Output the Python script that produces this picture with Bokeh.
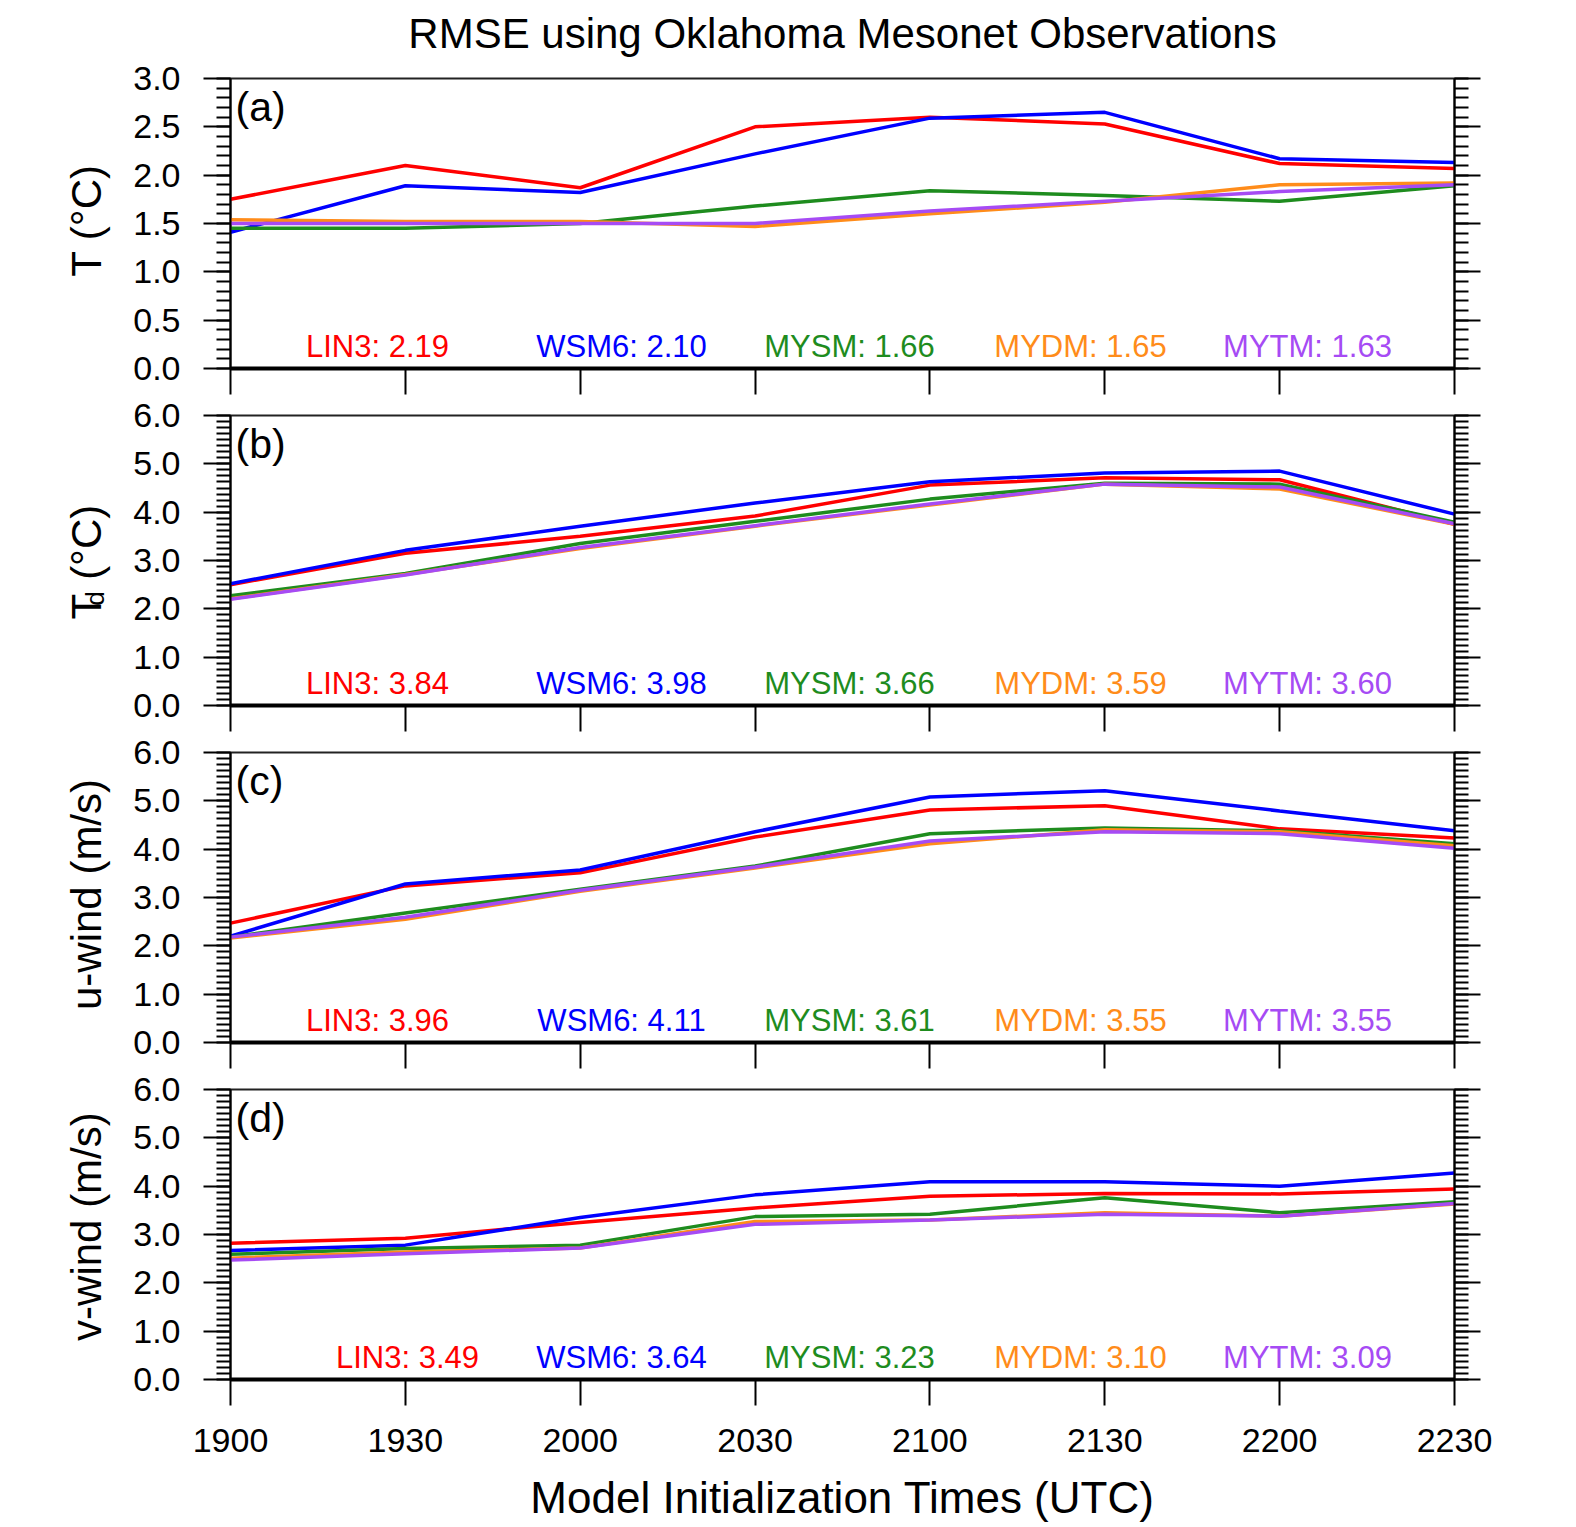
import numpy as np
from bokeh.plotting import figure
from bokeh.layouts import column, row
from bokeh.models import Range1d, FixedTicker, LinearAxis, Label, PrintfTickFormatter
from bokeh.embed import file_html
from bokeh.resources import INLINE

# ---------------- data ----------------
times = ["1900", "1930", "2000", "2030", "2100", "2130", "2200", "2230"]
schemes = ["LIN3", "WSM6", "MYSM", "MYDM", "MYTM"]

T_LIN3 = [1.75, 2.10, 1.87, 2.50, 2.60, 2.53, 2.12, 2.07]
T_WSM6 = [1.41, 1.89, 1.82, 2.22, 2.59, 2.65, 2.17, 2.13]
T_MYSM = [1.45, 1.45, 1.50, 1.68, 1.84, 1.79, 1.73, 1.89]
T_MYDM = [1.54, 1.52, 1.52, 1.47, 1.60, 1.72, 1.90, 1.92]
T_MYTM = [1.50, 1.50, 1.50, 1.50, 1.63, 1.73, 1.83, 1.90]
T_RMSE = [2.19, 2.10, 1.66, 1.65, 1.63]

TD_LIN3 = [2.50, 3.15, 3.50, 3.92, 4.56, 4.71, 4.67, 3.75]
TD_WSM6 = [2.52, 3.21, 3.71, 4.19, 4.63, 4.81, 4.85, 3.96]
TD_MYSM = [2.27, 2.73, 3.35, 3.81, 4.27, 4.60, 4.58, 3.79]
TD_MYDM = [2.21, 2.71, 3.25, 3.71, 4.15, 4.58, 4.48, 3.75]
TD_MYTM = [2.20, 2.70, 3.27, 3.72, 4.17, 4.58, 4.52, 3.76]
TD_RMSE = [3.84, 3.98, 3.66, 3.59, 3.60]

U_LIN3 = [2.47, 3.24, 3.51, 4.25, 4.81, 4.90, 4.42, 4.23]
U_WSM6 = [2.20, 3.28, 3.57, 4.36, 5.08, 5.21, 4.79, 4.38]
U_MYSM = [2.18, 2.68, 3.17, 3.65, 4.32, 4.44, 4.38, 4.11]
U_MYDM = [2.16, 2.55, 3.13, 3.61, 4.11, 4.40, 4.36, 4.07]
U_MYTM = [2.18, 2.59, 3.15, 3.63, 4.17, 4.36, 4.32, 4.02]
U_RMSE = [3.96, 4.11, 3.61, 3.55, 3.55]

V_LIN3 = [2.82, 2.92, 3.25, 3.55, 3.79, 3.85, 3.84, 3.94]
V_WSM6 = [2.67, 2.78, 3.35, 3.82, 4.09, 4.09, 4.00, 4.27]
V_MYSM = [2.59, 2.71, 2.78, 3.37, 3.42, 3.76, 3.45, 3.68]
V_MYDM = [2.51, 2.64, 2.72, 3.27, 3.30, 3.45, 3.38, 3.63]
V_MYTM = [2.47, 2.60, 2.72, 3.21, 3.30, 3.42, 3.38, 3.64]
V_RMSE = [3.49, 3.64, 3.23, 3.10, 3.09]

# ---------------- style / layout ----------------
COLORS = ["#FF0000", "#0000FF", "#1E8C1E", "#FF8C1A", "#A64BF4"]
FONT = "Liberation Sans"
W, H = 1576, 1527
LBL_W = 122                  # strip holding the rotated y-axis titles
LEFT, RIGHT = 108, 122       # borders of the panel figures
PW = W - LBL_W
FW, FH = PW - LEFT - RIGHT, 290
TOP = 20
TITLE_H = 58
B_MID, B_LAST = 27, 92
BOT_H = H - (TITLE_H + 3 * (TOP + FH + B_MID) + (TOP + FH + B_LAST))
PX_PER_X = FW / 7.0


def px_x(px):
    return (px - LBL_W - LEFT) / PX_PER_X


def bare(width, height):
    f = figure(width=width, height=height, x_range=Range1d(0, width),
               y_range=Range1d(0, height), output_backend="svg",
               toolbar_location=None, min_border=0,
               x_axis_location=None, y_axis_location=None)
    f.grid.visible = False
    f.outline_line_color = None
    f.background_fill_color = "white"
    f.border_fill_color = "white"
    return f


def hidden_labels(ax):
    ax.major_label_text_font_size = "1px"
    ax.major_label_text_alpha = 0
    ax.major_label_text_color = None
    ax.major_label_standoff = 0


def ylabel_fig(height, parts):
    f = bare(LBL_W, height)
    yc = height - (TOP + FH / 2.0)
    for txt, size, along, bx, align in parts:
        f.add_layout(Label(x=bx, y=yc + along, text=txt, angle=np.pi / 2,
                           text_font=FONT, text_font_size=size,
                           text_color="black", text_align=align,
                           text_baseline="middle"))
    return f


def make_panel(series, rmse, ymax, step, minor_step, letter, bottom,
               stat_px, last=False):
    p = figure(width=PW, height=TOP + FH + bottom,
               x_range=Range1d(0, 7), y_range=Range1d(0, ymax),
               output_backend="svg", toolbar_location=None,
               min_border_left=LEFT, min_border_right=RIGHT,
               min_border_top=TOP, min_border_bottom=bottom,
               x_axis_location=None, y_axis_location=None)
    p.grid.visible = False
    p.outline_line_color = "#222222"
    p.outline_line_width = 2
    p.background_fill_color = "white"
    p.border_fill_color = "white"

    xs = list(range(len(times)))
    for vals, c in zip(series, COLORS):
        p.line(xs, vals, line_color=c, line_width=3.5)

    n = int(round(ymax / step))
    majors = [round(i * step, 3) for i in range(n + 1)]
    minors = [round(i * minor_step, 4) for i in range(int(round(ymax / minor_step)) + 1)]

    # bottom axis
    xax = LinearAxis(ticker=FixedTicker(ticks=xs, minor_ticks=[]),
                     major_label_overrides={i: t for i, t in enumerate(times)},
                     major_tick_out=26, major_tick_in=0,
                     minor_tick_out=0, minor_tick_in=0,
                     major_tick_line_width=2, axis_line_width=4,
                     axis_line_color="black", major_tick_line_color="black",
                     major_label_text_font=FONT,
                     major_label_text_color="black")
    if last:
        xax.major_label_text_font_size = "34px"
        xax.major_label_standoff = 23
    else:
        hidden_labels(xax)
    p.add_layout(xax, "below")

    # left axis
    yax = LinearAxis(ticker=FixedTicker(ticks=majors, minor_ticks=minors),
                     formatter=PrintfTickFormatter(format="%.1f"),
                     major_tick_out=27, major_tick_in=0,
                     minor_tick_out=14, minor_tick_in=0,
                     major_tick_line_width=2, minor_tick_line_width=2,
                     axis_line_width=2, axis_line_color="black",
                     major_label_standoff=23,
                     major_label_text_font=FONT,
                     major_label_text_font_size="34px",
                     major_label_text_color="black")
    p.add_layout(yax, "left")

    # right axis (ticks only)
    rax = LinearAxis(ticker=FixedTicker(ticks=majors, minor_ticks=minors),
                     formatter=PrintfTickFormatter(format="%.1f"),
                     major_tick_out=26, major_tick_in=0,
                     minor_tick_out=14, minor_tick_in=0,
                     major_tick_line_width=2, minor_tick_line_width=2,
                     axis_line_width=2, axis_line_color="black")
    hidden_labels(rax)
    p.add_layout(rax, "right")

    # panel letter
    p.add_layout(Label(x=0, y=ymax, x_offset=5, y_offset=-5, text=letter,
                       text_font=FONT, text_font_size="41px",
                       text_baseline="top", text_align="left",
                       text_color="black"))

    # RMSE annotations
    for name, val, c, px in zip(schemes, rmse, COLORS, stat_px):
        p.add_layout(Label(x=px_x(px), y=0, y_offset=22,
                           text=f"{name}: {val:.2f}", text_font=FONT,
                           text_font_size="31px", text_color=c,
                           text_align="center", text_baseline="middle"))
    return p


STAT_PX = [377, 621, 849, 1080, 1307]
STAT_PX_D = [407, 621, 849, 1080, 1307]

# title strip
tfig = bare(W, TITLE_H)
tfig.add_layout(Label(x=LBL_W + LEFT + FW / 2.0, y=TITLE_H - 33,
                      text="RMSE using Oklahoma Mesonet Observations",
                      text_font=FONT, text_font_size="42px", text_color="black",
                      text_align="center", text_baseline="middle"))

# x-axis title strip
bfig = bare(W, BOT_H)
bfig.add_layout(Label(x=LBL_W + LEFT + FW / 2.0, y=BOT_H - 26,
                      text="Model Initialization Times (UTC)",
                      text_font=FONT, text_font_size="44px", text_color="black",
                      text_align="center", text_baseline="middle"))

p1 = make_panel([T_LIN3, T_WSM6, T_MYSM, T_MYDM, T_MYTM], T_RMSE, 3.0, 0.5, 0.1,
                "(a)", B_MID, STAT_PX)
p2 = make_panel([TD_LIN3, TD_WSM6, TD_MYSM, TD_MYDM, TD_MYTM], TD_RMSE, 6.0, 1.0, 0.125,
                "(b)", B_MID, STAT_PX)
p3 = make_panel([U_LIN3, U_WSM6, U_MYSM, U_MYDM, U_MYTM], U_RMSE, 6.0, 1.0, 0.125,
                "(c)", B_MID, STAT_PX)
p4 = make_panel([V_LIN3, V_WSM6, V_MYSM, V_MYDM, V_MYTM], V_RMSE, 6.0, 1.0, 0.125,
                "(d)", B_LAST, STAT_PX_D, last=True)

XM = 86  # em-middle of the rotated y titles
l1 = ylabel_fig(TOP + FH + B_MID, [("T (°C)", "42px", 0, XM, "center")])
l2 = ylabel_fig(TOP + FH + B_MID, [("T", "42px", -72, XM, "left"),
                                   ("d", "26px", -56, 94, "left"),
                                   ("(°C)", "42px", -26, XM, "left")])
l3 = ylabel_fig(TOP + FH + B_MID, [("u-wind (m/s)", "42px", 0, XM, "center")])
l4 = ylabel_fig(TOP + FH + B_LAST, [("v-wind (m/s)", "42px", -25, XM, "center")])

layout = column(tfig, row(l1, p1, spacing=0), row(l2, p2, spacing=0),
                row(l3, p3, spacing=0), row(l4, p4, spacing=0), bfig, spacing=0)
open("out.html", "w").write(file_html(layout, INLINE))
